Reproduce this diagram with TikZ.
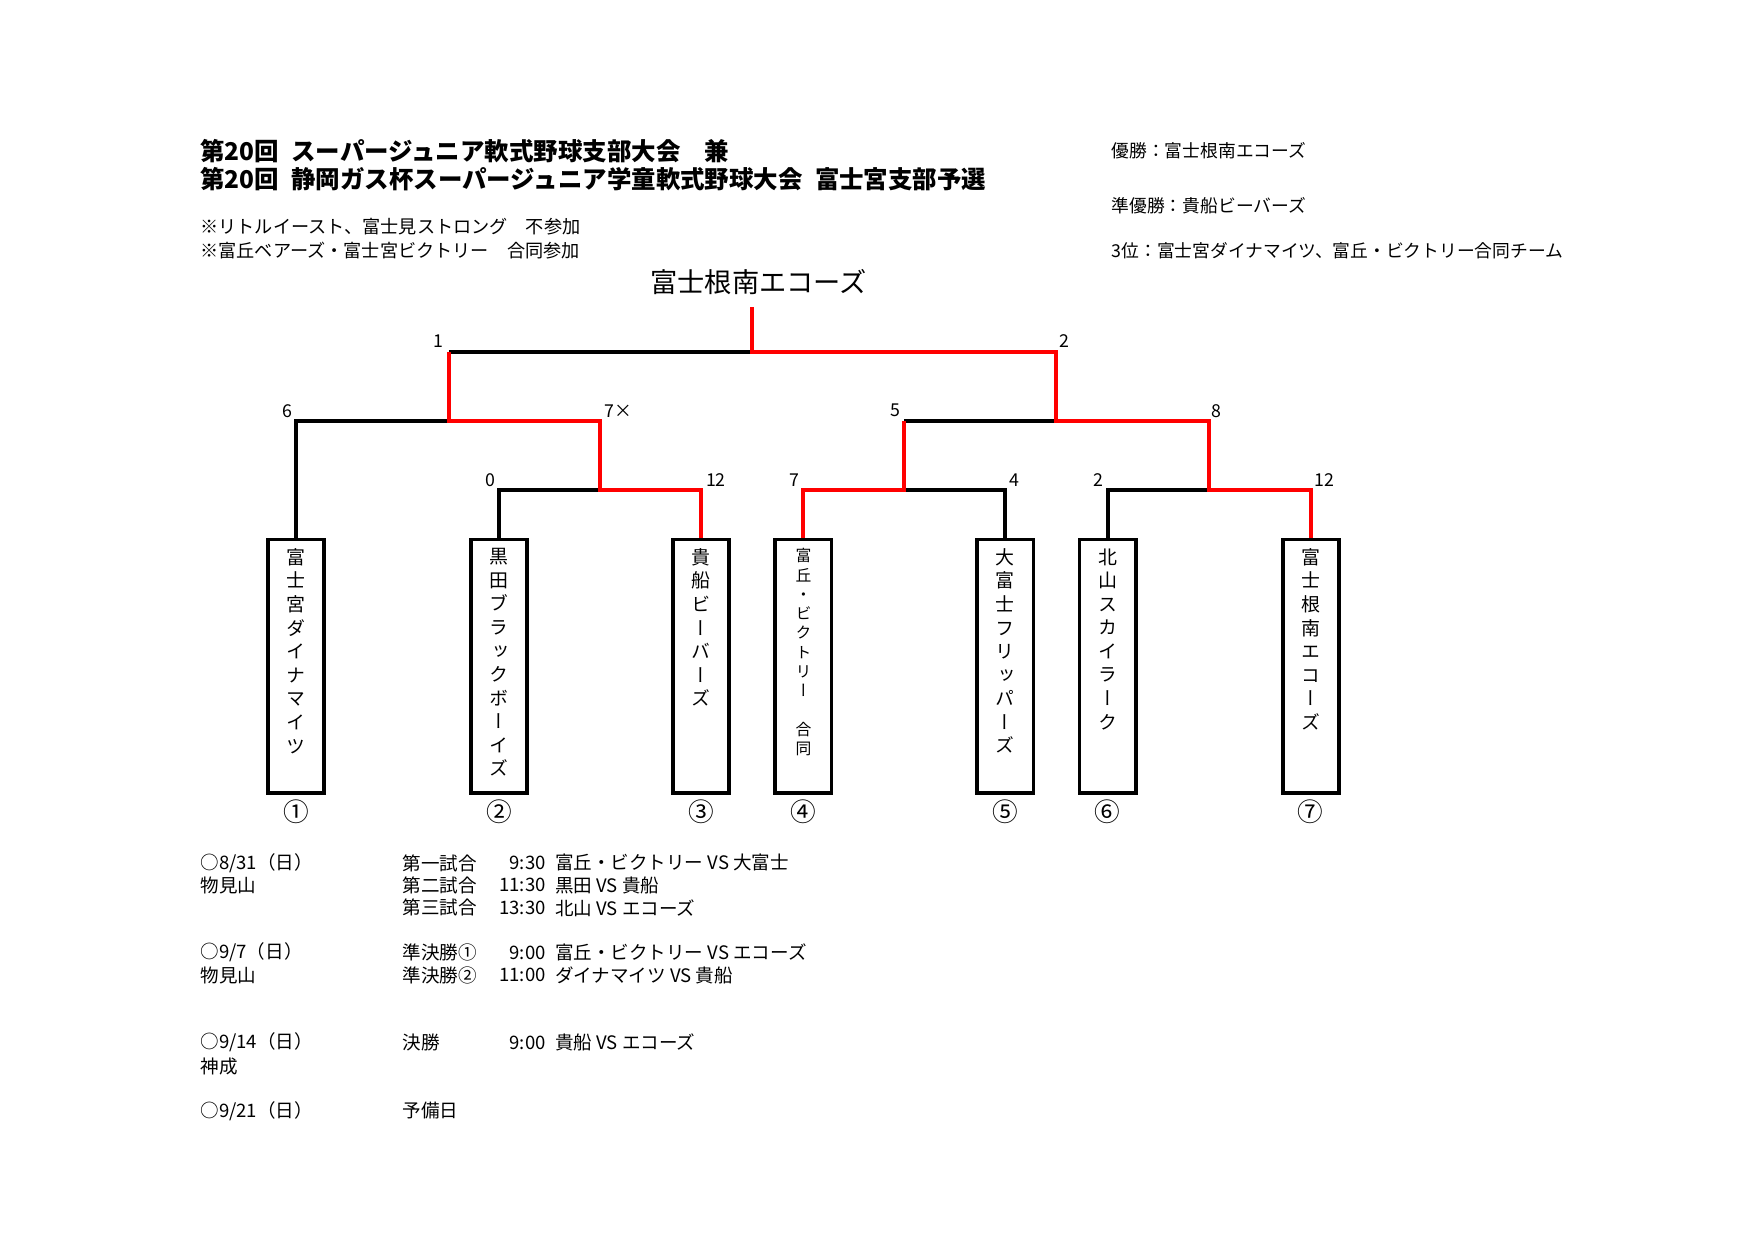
\documentclass[tikz,border=0pt]{standalone}
\usepackage{fontspec}
\setmainfont{Noto Sans CJK JP}
\newfontfamily\tatefont[RawFeature=+vert]{Noto Sans CJK JP}
\newcommand\tate[2]{\vbox to 2.1cm{\hsize=0.3cm\baselineskip=#1\lineskiplimit=-\maxdimen\tatefont\tateloop#2\relax\vfil}}
\def\tateloop#1{\ifx\relax#1\else\hbox to\hsize{\hss#1\hss}\expandafter\tateloop\fi}
\tikzset{
  loser/.style={line width=1pt, black},
  winner/.style={line width=1pt, red},
  team/.style={draw, line width=1pt, minimum width=0.5cm, minimum height=2.26cm, inner xsep=0pt, inner ysep=0.08cm, anchor=north, font=\fontsize{4.8}{5}\selectfont},
  score/.style={font=\fontsize{4.5}{5}\selectfont, inner sep=0pt},
  circnum/.style={font=\fontsize{6.5}{7}\selectfont, inner sep=0pt},
  lbl/.style={anchor=west, inner sep=0pt, font=\fontsize{4.6}{5}\selectfont},
  sched/.style={anchor=west, inner sep=0pt, font=\fontsize{4.7}{5}\selectfont},
}
\begin{document}
\begin{tikzpicture}[x=0.01cm, y=-0.01cm]
  \useasboundingbox (0,0) rectangle (1564,1106);
  % heading
  \node[lbl, font=\fontsize{6.2}{7}\selectfont\bfseries] (title1) at (178,135) {第20回\enspace スーパージュニア軟式野球支部大会　兼};
  \node[lbl, font=\fontsize{6.2}{7}\selectfont\bfseries] (title2) at (178,160) {第20回\enspace 静岡ガス杯スーパージュニア学童軟式野球大会\enspace 富士宮支部予選};
  \node[lbl] (note1) at (178,202) {※リトルイースト、富士見ストロング　不参加};
  \node[lbl] (note2) at (178,223) {※富丘ベアーズ・富士宮ビクトリー　合同参加};
  \node[lbl, font=\fontsize{4.5}{5}\selectfont] (res1) at (990,134) {優勝：富士根南エコーズ};
  \node[lbl, font=\fontsize{4.5}{5}\selectfont] (res2) at (990,183) {準優勝：貴船ビーバーズ};
  \node[lbl, font=\fontsize{4.5}{5}\selectfont] (res3) at (990,223) {3位：富士宮ダイナマイツ、富丘・ビクトリー合同チーム};
  \node[inner sep=0pt, font=\fontsize{6.9}{7}\selectfont] (champname) at (676,251) {富士根南エコーズ};

  % teams
  \node[team] (t1) at (264,479) {\tate{0.21cm}{富士宮ダイナマイツ}};
  \node[team] (t2) at (445,479) {\tate{0.21cm}{黒田ブラックボーイズ}};
  \node[team] (t3) at (625,479) {\tate{0.21cm}{貴船ビーバーズ}};
  \node[team, font=\fontsize{4}{4}\selectfont] (t4) at (716,479) {\tate{0.172cm}{富丘・ビクトリー　合同}};
  \node[team] (t5) at (896,479) {\tate{0.21cm}{大富士フリッパーズ}};
  \node[team] (t6) at (987,479) {\tate{0.21cm}{北山スカイラーク}};
  \node[team] (t7) at (1168,479) {\tate{0.21cm}{富士根南エコーズ}};
  \node[circnum] (c1) at (264,723) {①};
  \node[circnum] (c2) at (445,723) {②};
  \node[circnum] (c3) at (625,723) {③};
  \node[circnum] (c4) at (716,723) {④};
  \node[circnum] (c5) at (896,723) {⑤};
  \node[circnum] (c6) at (987,723) {⑥};
  \node[circnum] (c7) at (1168,723) {⑦};

  % bracket joints
  \coordinate (champ) at (670,274);
  \coordinate (f) at (670,314);
  \coordinate (s1) at (400,375);
  \coordinate (s2) at (941,375);
  \coordinate (q1) at (535,437);
  \coordinate (q2) at (806,437);
  \coordinate (q3) at (1077,437);

  \draw[loser] (t1.north) |- (s1);
  \draw[loser] (t2.north) |- (q1);
  \draw[loser] (t5.north) |- (q2);
  \draw[loser] (t6.north) |- (q3);
  \draw[loser] (q2 |- s2) -- (s2);
  \draw[loser] (s1 |- f) -- (f);
  \draw[winner] (t3.north) |- (q1) |- (s1) -- (s1 |- f);
  \draw[winner] (t4.north) |- (q2) -- (q2 |- s2);
  \draw[winner] (t7.north) |- (q3) |- (s2) |- (f) -- (champ);

  % scores
  \node[score] (sc1) at (391,304) {1};
  \node[score] (sc2) at (949,304) {2};
  \node[score] (sc3) at (256,366) {6};
  \node[score] (sc4) at (551,366) {7×};
  \node[score] (sc5) at (798,366) {5};
  \node[score] (sc6) at (1084,366) {8};
  \node[score] (sc7) at (437,428) {0};
  \node[score] (sc8) at (638,428) {12};
  \node[score] (sc9) at (708,428) {7};
  \node[score] (sc10) at (904,428) {4};
  \node[score] (sc11) at (979,428) {2};
  \node[score] (sc12) at (1180,428) {12};

  % schedule
  \node[sched] (d1) at (178,769) {○8/31（日）};
  \node[sched] (p1) at (178,789) {物見山};
  \node[sched] (g1) at (358,769) {第一試合};
  \node[sched] (g2) at (358,789) {第二試合};
  \node[sched] (g3) at (358,809) {第三試合};
  \node[sched, anchor=east] (h1) at (487,769) {9:30};
  \node[sched, anchor=east] (h2) at (487,789) {11:30};
  \node[sched, anchor=east] (h3) at (487,809) {13:30};
  \node[sched] (m1) at (494,769) {富丘・ビクトリー VS 大富士};
  \node[sched] (m2) at (494,789) {黒田 VS 貴船};
  \node[sched] (m3) at (494,809) {北山 VS エコーズ};
  \node[sched] (d2) at (178,849) {○9/7（日）};
  \node[sched] (p2) at (178,869) {物見山};
  \node[sched] (g4) at (358,849) {準決勝①};
  \node[sched] (g5) at (358,869) {準決勝②};
  \node[sched, anchor=east] (h4) at (487,849) {9:00};
  \node[sched, anchor=east] (h5) at (487,869) {11:00};
  \node[sched] (m4) at (494,849) {富丘・ビクトリー VS エコーズ};
  \node[sched] (m5) at (494,869) {ダイナマイツ VS 貴船};
  \node[sched] (d3) at (178,929) {○9/14（日）};
  \node[sched] (p3) at (178,950) {神成};
  \node[sched] (g6) at (358,929) {決勝};
  \node[sched, anchor=east] (h6) at (487,929) {9:00};
  \node[sched] (m6) at (494,929) {貴船 VS エコーズ};
  \node[sched] (d4) at (178,990) {○9/21（日）};
  \node[sched] (g7) at (358,990) {予備日};
\end{tikzpicture}
\end{document}
